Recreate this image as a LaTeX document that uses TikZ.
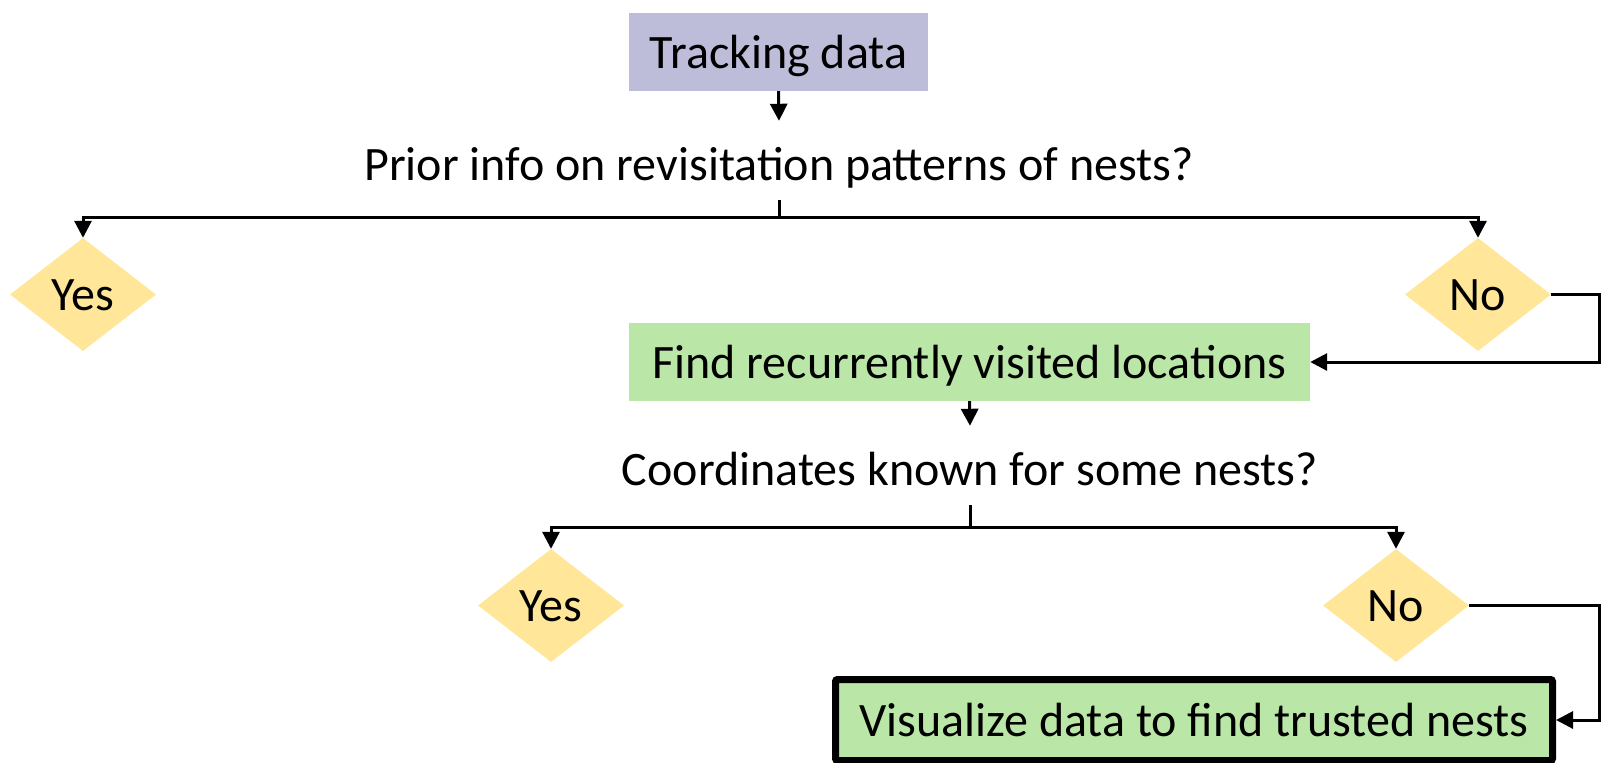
\documentclass[tikz,border=0pt]{standalone}
\usepackage{fontspec}
\setmainfont{Carlito}
\usetikzlibrary{arrows.meta,shapes.geometric}
\definecolor{lav}{HTML}{BDBDD9}
\definecolor{leaf}{HTML}{BAE6A7}
\definecolor{gold}{HTML}{FFE699}
\tikzset{
  label font/.style={font=\fontsize{48}{57}\selectfont},
  conn/.style={line width=3pt},
  arr/.style={conn,-{Triangle[length=17pt,width=17pt]}},
  stepbox/.style={label font,rectangle,inner sep=0pt,minimum height=78pt,
    text height=34pt,text depth=2pt},
  question/.style={label font,inner sep=0pt,anchor=base,
    text height=59pt,text depth=20pt},
  choice/.style={label font,diamond,fill=gold,inner sep=0pt,
    minimum width=146pt,minimum height=113pt,text height=34pt,text depth=2pt},
}
\begin{document}
\begin{tikzpicture}[x=1pt,y=-1pt]
  \useasboundingbox (0,0) rectangle (1604,763);

  % input
  \node[stepbox,fill=lav,minimum width=299pt] (track) at (778.5,52) {Tracking data};

  % first question and its two answers
  \node[question] (q1) at (779,180) {Prior info on revisitation patterns of nests?};
  \node[choice] (yes1) at (83,294.5) {Yes};
  \node[choice] (no1) at (1478,294.5) {No};
  \coordinate (j1) at (779,217);

  % recurrent locations
  \node[stepbox,fill=leaf,minimum width=681pt] (find) at (969.5,362) {Find recurrently visited locations};

  % second question and its two answers
  \node[question] (q2) at (970,485) {Coordinates known for some nests?};
  \node[choice] (yes2) at (551,605.5) {Yes};
  \node[choice] (no2) at (1396,605.5) {No};
  \coordinate (j2) at (970,527);

  % final step
  \node[stepbox,fill=leaf,draw=black,line width=7pt,rounded corners=2pt,
        minimum width=717pt,minimum height=81pt] (vis) at (1194,720)
        {Visualize data to find trusted nests};

  % connectors
  \draw[arr] (track.south) -- (q1.north);
  \draw[conn] (q1.south) -- (j1);
  \draw[arr] (j1) -| (yes1.north);
  \draw[arr] (j1) -| (no1.north);
  \draw[arr] (no1.east) -- ++(48,0) |- (find.east);
  \draw[arr] (find.south) -- (q2.north);
  \draw[conn] (q2.south) -- (j2);
  \draw[arr] (j2) -| (yes2.north);
  \draw[arr] (j2) -| (no2.north);
  \draw[arr] (no2.east) -- ++(130,0) |- (vis.east);
\end{tikzpicture}
\end{document}
